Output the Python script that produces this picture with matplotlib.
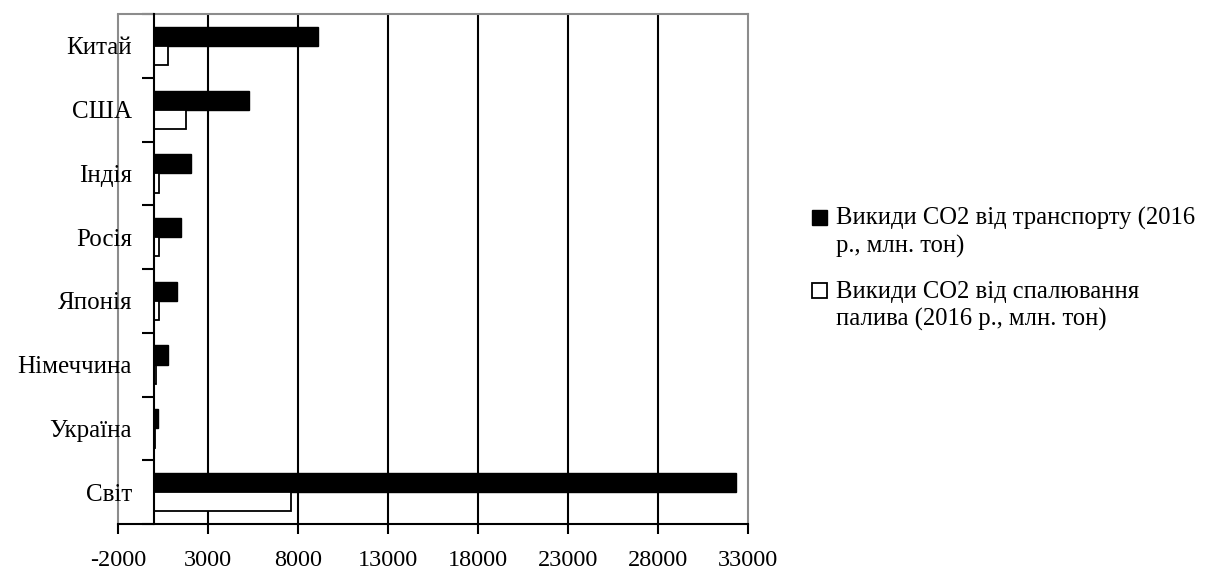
import matplotlib
matplotlib.use("Agg")
import matplotlib.pyplot as plt
from matplotlib.patches import Rectangle
import numpy as np

countries = ["Китай", "США", "Індія", "Росія", "Японія", "Німеччина", "Україна", "Світ"]
transport = [9100, 5250, 2050, 1480, 1250, 800, 230, 32350]
fuel = [800, 1800, 260, 260, 250, 130, 40, 7600]
label_transport = "Викиди CO2 від транспорту (2016\nр., млн. тон)"
label_fuel = "Викиди CO2 від спалювання\nпалива (2016 р., млн. тон)"
xticks = [-2000, 3000, 8000, 13000, 18000, 23000, 28000, 33000]

plt.rcParams["font.family"] = ["Liberation Serif", "DejaVu Serif"]
FS_Y = 18
FS_X = 17.5
FS_LEG = 17.7

W, H = 1205, 575
fig = plt.figure(figsize=(W / 100, H / 100), dpi=100)
ax = fig.add_axes([118 / W, 1 - 524 / H, (748 - 118) / W, (524 - 14) / H])

y = np.arange(len(countries))
h = 0.3
ax.barh(y - h / 2, transport, height=h, color="black", edgecolor="black",
        linewidth=1.0, zorder=3)
ax.barh(y + h / 2, fuel, height=h, color="white", edgecolor="black",
        linewidth=1.3, zorder=3)

ax.set_xlim(-2000, 33000)
ax.set_ylim(len(countries) - 0.5, -0.5)

# vertical gridlines
for xv in xticks[1:-1]:
    ax.axvline(xv, color="black", linewidth=1.5, zorder=1)

# gray frame of the plotting area, black axes at x=0 and along the bottom
for s in ["top", "right"]:
    ax.spines[s].set_color("#8c8c8c")
    ax.spines[s].set_linewidth(1.5)
ax.spines["bottom"].set_color("black")
ax.spines["bottom"].set_linewidth(1.5)
ax.add_patch(Rectangle((0, 0), 0, 1, transform=ax.transAxes, fill=False,
                       edgecolor="#8c8c8c", linewidth=1.5, clip_on=False, zorder=0))
ax.spines["left"].set_position(("data", 0))
ax.spines["left"].set_color("black")
ax.spines["left"].set_linewidth(1.5)
ax.spines["left"].set_zorder(4)

ax.set_xticks(xticks)
ax.set_xticklabels([str(v) for v in xticks], fontsize=FS_X)
ax.tick_params(axis="x", direction="out", length=7, width=1.5, pad=12)

ax.set_yticks(np.arange(-0.5, len(countries), 1.0))
ax.set_yticklabels([])
ax.tick_params(axis="y", which="major", direction="out", length=9, width=1.5)
ax.set_yticks(y, minor=True)
ax.set_yticklabels(countries, minor=True, fontsize=FS_Y)
ax.tick_params(axis="y", which="minor", length=0, pad=15.8)

# legend: square key aligned with the first line of each wrapped label
def legend_entry(top_px, face, lw, label):
    size = 15
    fig.patches.append(Rectangle((812 / W, 1 - (top_px + size) / H), size / W, size / H,
                                 transform=fig.transFigure, facecolor=face,
                                 edgecolor="black", linewidth=lw))
    base = top_px + 15
    for i, line in enumerate(label.split("\n")):
        fig.text(836 / W, 1 - (base + i * 28) / H, line, fontsize=FS_LEG,
                 va="baseline", ha="left")

legend_entry(210, "black", 1.0, label_transport)
legend_entry(283, "white", 1.3, label_fuel)

fig.savefig("out.png", dpi=100)
